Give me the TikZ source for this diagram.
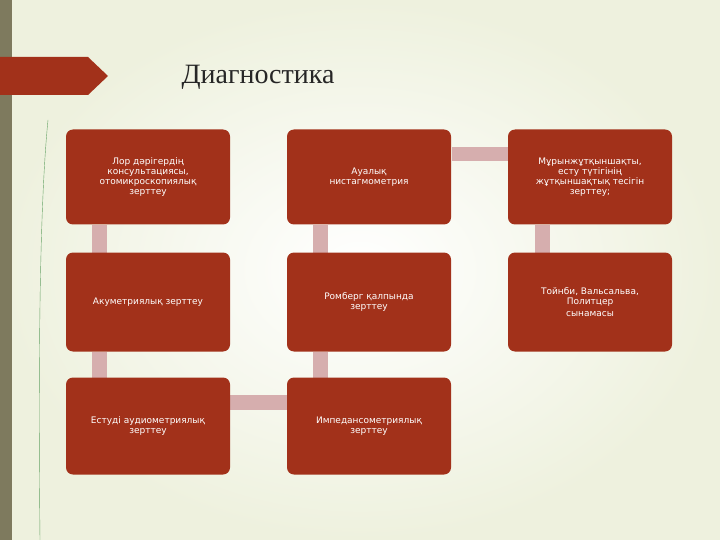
\documentclass[tikz,border=0pt]{standalone}
\usepackage{fontspec}
\setmainfont{DejaVu Sans}
\newfontfamily\titlefont{Liberation Serif}
\begin{document}
\begin{tikzpicture}[x=1pt,y=-1pt,
  box/.style={draw=none,fill=boxred,rounded corners=7pt,minimum width=164pt,minimum height=95pt,align=center,text=white,font=\fontsize{9}{10}\selectfont,inner sep=2pt},
  link/.style={fill=linkpink,draw=none}]
\definecolor{boxred}{HTML}{A2311A}
\definecolor{linkpink}{HTML}{D6AEAE}
\definecolor{bgc}{HTML}{EEF1DE}
\definecolor{strip}{HTML}{7E7A5E}
\useasboundingbox (0,0) rectangle (720,540);
\shade[inner color=white, outer color=bgc] (0,0) rectangle (720,540);
\fill[strip] (0,0) rectangle (12,540);
\fill[boxred] (0,57) -- (88,57) -- (108,76) -- (88,95) -- (0,95) -- cycle;
\draw[green!40!black!60, thin] (40,540) .. controls (38,350) and (40,200) .. (48,120);
\node[font=\titlefont\fontsize{28}{30}\selectfont, text=black!85] (title) at (258,77) {Диагностика};
% links
\fill[link] (452,147) rectangle (508,161);
\fill[link] (92,225) rectangle (107,253);
\fill[link] (313,225) rectangle (328,253);
\fill[link] (535,225) rectangle (550,253);
\fill[link] (92,352) rectangle (107,378);
\fill[link] (313,352) rectangle (328,378);
\fill[link] (230,395) rectangle (287,410);
% boxes
\node[box] (b1) at (148,177) {Лор дәрігердің\\консультациясы,\\отомикроскопиялық\\зерттеу};
\node[box] (b2) at (369,177) {Ауалық\\нистагмометрия};
\node[box] (b3) at (590,177) {Мұрынжұтқыншақты,\\есту түтігінің\\жұтқыншақтық тесігін\\зерттеу;};
\node[box,minimum height=99pt] (b4) at (148,302) {Акуметриялық зерттеу};
\node[box,minimum height=99pt] (b5) at (369,302) {Ромберг қалпында\\зерттеу};
\node[box,minimum height=99pt] (b6) at (590,302) {Тойнби, Вальсальва,\\Политцер\\[2pt]сынамасы};
\node[box,minimum height=97pt] (b7) at (148,426) {Естуді аудиометриялық\\зерттеу};
\node[box,minimum height=97pt] (b8) at (369,426) {Импедансометриялық\\зерттеу};
\end{tikzpicture}
\end{document}
